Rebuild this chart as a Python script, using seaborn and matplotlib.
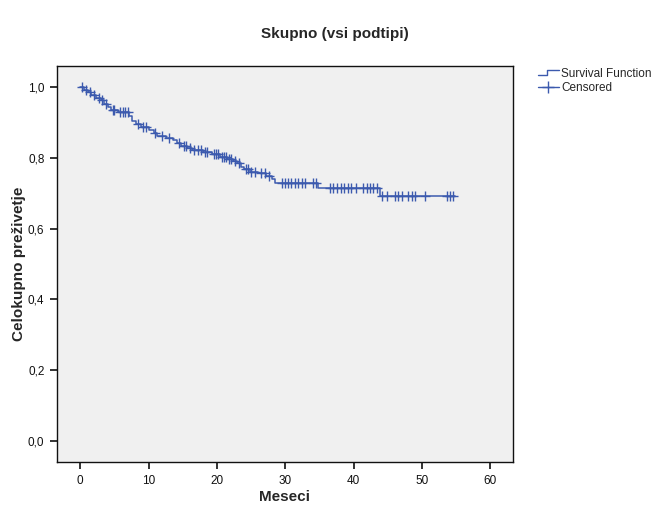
import matplotlib
matplotlib.use('Agg')
import matplotlib.pyplot as plt
from matplotlib.lines import Line2D
from matplotlib.legend_handler import HandlerBase
from matplotlib.ticker import FuncFormatter
import numpy as np
import pandas as pd
import seaborn as sns

sns.set_style('white')
plt.rcParams['font.family'] = ['Liberation Sans', 'DejaVu Sans']

# Kaplan-Meier steps (months, survival after the event)
event_times = [0.0, 0.6, 1.1, 1.6, 2.3, 3.0, 3.5, 4.0, 4.5, 5.5, 7.2, 7.6, 8.2, 8.9,
               10.1, 10.8, 11.3, 12.5, 13.5, 14.2, 14.8, 15.6, 16.3, 18.0, 19.2,
               20.4, 21.5, 22.3, 23.0, 23.5, 23.9, 24.8, 26.0, 27.2, 28.0, 28.5,
               34.8, 43.9]
surv_values = [1.0, 0.992, 0.985, 0.977, 0.970, 0.962, 0.953, 0.944, 0.936, 0.928,
               0.918, 0.905, 0.895, 0.887, 0.879, 0.870, 0.862, 0.856, 0.850, 0.842,
               0.834, 0.827, 0.821, 0.815, 0.810, 0.803, 0.797, 0.791, 0.785, 0.775,
               0.767, 0.761, 0.756, 0.748, 0.740, 0.729, 0.715, 0.692]
censor_times = [0.2, 0.9, 1.4, 2.0, 2.7, 3.2, 3.8, 4.8, 5.0, 5.8, 6.2, 6.6, 7.0,
                8.5, 9.2, 9.6, 11.0, 12.0, 13.0, 14.5, 15.2, 15.4, 16.0, 16.7,
                17.2, 17.7, 18.3, 18.6, 19.5, 19.8, 20.1, 20.7, 21.0, 21.3, 21.8,
                22.1, 22.6, 23.2, 24.2, 24.5, 25.0, 25.5, 26.5, 27.0, 27.6,
                29.5, 30.0, 30.4, 30.9, 31.4, 31.9, 32.5, 32.9, 34.1, 34.5,
                36.5, 37.0, 37.6, 38.1, 38.6, 39.2, 39.6, 40.4, 41.4, 42.0, 42.4,
                42.8, 43.4, 44.2, 44.9, 46.1, 46.5, 47.1, 48.0, 48.5, 49.0, 50.4,
                53.7, 54.1, 54.5]
end_time = 54.8
y_ticks = [0.0, 0.2, 0.4, 0.6, 0.8, 1.0]
x_ticks = [0, 10, 20, 30, 40, 50, 60]

col = '#3C5AAE'

curve = pd.DataFrame({'t': event_times + [end_time],
                      's': surv_values + [surv_values[-1]]})
idx = np.searchsorted(event_times, censor_times, side='right') - 1
cens = pd.DataFrame({'t': censor_times, 's': np.array(surv_values)[idx]})

fig = plt.figure(figsize=(6.54, 5.09), dpi=100)
ax = fig.add_axes([57/654, 1-462/509, (513-57)/654, (462-66)/509])
ax.set_facecolor('#F0F0F0')

sns.lineplot(data=curve, x='t', y='s', drawstyle='steps-post', estimator=None,
             color=col, lw=1.1, ax=ax)
sns.scatterplot(data=cens, x='t', y='s', marker='+', s=55, color=col,
                linewidth=1.0, ax=ax, zorder=3)

ax.set_xlim(-3.4, 63.3)
ax.set_ylim(-0.059, 1.059)
ax.set_xticks(x_ticks)
ax.set_yticks(y_ticks)
ax.yaxis.set_major_formatter(FuncFormatter(lambda v, p: f'{v:.1f}'.replace('.', ',')))
ax.tick_params(axis='both', direction='out', length=5, width=1.2, labelsize=8.5,
               colors='#111111', bottom=True, left=True, pad=4)
for sp in ax.spines.values():
    sp.set_color('#111111')
    sp.set_linewidth(1.0)
ax.set_xlabel('')
ax.set_ylabel('')

fig.text(285/654, 1-497/509, 'Meseci', ha='center', va='center',
         fontsize=11, fontweight='bold')
fig.text(19/654, 1-264/509, 'Celokupno preživetje', ha='center', va='center',
         rotation=90, fontsize=11, fontweight='bold')
fig.text(335/654, 1-34/509, 'Skupno (vsi podtipi)', ha='center', va='center',
         fontsize=11, fontweight='bold')


class StepHandler(HandlerBase):
    def create_artists(self, legend, orig_handle, xdescent, ydescent, width,
                       height, fontsize, trans):
        x0 = -xdescent
        xm = x0 + width * 0.45
        y0 = -ydescent + height * 0.15
        y1 = -ydescent + height * 0.85
        ln = Line2D([x0, xm, xm, x0 + width], [y0, y0, y1, y1], color=col,
                    lw=1.0, transform=trans)
        return [ln]


h_surv = Line2D([], [], color=col)
h_cens = Line2D([], [], color=col, marker='+', markersize=9, lw=1.0)
fig.legend([h_surv, h_cens], ['Survival Function', 'Censored'],
           handler_map={h_surv: StepHandler()},
           loc='upper left', bbox_to_anchor=(533/654, 1-63/509),
           frameon=False, fontsize=8.5, handlelength=1.8, handletextpad=0.2,
           labelspacing=0.2, borderaxespad=0)

fig.savefig('out.png', dpi=100)
